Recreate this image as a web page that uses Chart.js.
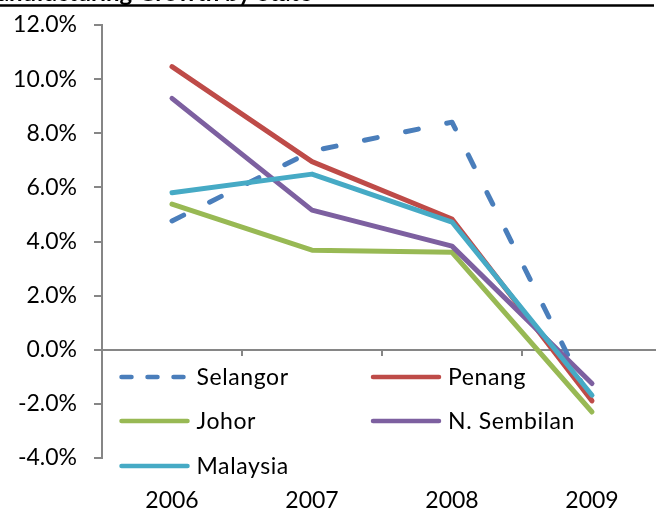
<!DOCTYPE html>
<html>
<head>
<meta charset="utf-8">
<script src="https://cdn.jsdelivr.net/npm/chart.js@4/dist/chart.umd.min.js"></script>
<style>
  html, body { margin: 0; padding: 0; background: #fff; overflow: hidden; }
  #wrap { position: absolute; left: 0; top: 0; width: 670px; height: 510px; }
</style>
</head>
<body>
<div id="wrap"><canvas id="c"></canvas></div>
<script>
// Annual growth by state, percent
const years = ['2006', '2007', '2008', '2009'];
const selangor   = [4.76, 7.34, 8.41, -2.0];
const penang     = [10.46, 6.95, 4.83, -1.89];
const johor      = [5.38, 3.68, 3.60, -2.30];
const nSembilan  = [9.29, 5.16, 3.83, -1.25];
const malaysia   = [5.80, 6.49, 4.72, -1.68];
const yTicks     = [-4, -2, 0, 2, 4, 6, 8, 10, 12];
const chartTitle = 'Manufacturing Growth by State';

const FONT = 'Lato, "Liberation Sans", sans-serif';
const AXIS_GREY = '#868686';

function series(label, data, color, order, dashed) {
  return {
    label, data, order,
    borderColor: color,
    backgroundColor: color,
    borderWidth: 5,
    borderCapStyle: 'round',
    borderJoinStyle: 'round',
    borderDash: dashed ? [13, 29] : [],
    pointRadius: 0,
    tension: 0,
    fill: false,
    legendDash: dashed ? [10, 16] : []
  };
}

const datasets = [
  series('Selangor', selangor, '#4A7EBB', 5, true),
  series('Penang', penang, '#BE4B48', 4, false),
  series('Johor', johor, '#98B954', 3, false),
  series('N. Sembilan', nSembilan, '#7D60A0', 2, false),
  series('Malaysia', malaysia, '#46AAC5', 1, false)
];

// Title strip with rule beneath it
const titlePlugin = {
  id: 'titleRule',
  afterDraw(chart) {
    const ctx = chart.ctx;
    ctx.save();
    ctx.fillStyle = '#000';
    ctx.font = 'bold 24px ' + FONT;
    ctx.textAlign = 'right';
    ctx.textBaseline = 'alphabetic';
    ctx.fillText(chartTitle, 312, 1);
    ctx.strokeStyle = '#000';
    ctx.lineWidth = 2.5;
    ctx.beginPath();
    ctx.moveTo(0, 5.5);
    ctx.lineTo(654, 5.5);
    ctx.stroke();
    ctx.restore();
  }
};

// Two-column legend laid inside the plot area
const gridLegend = {
  id: 'gridLegend',
  afterDatasetsDraw(chart) {
    const ctx = chart.ctx;
    const area = chart.chartArea;
    const colX = [area.left + 17.5, area.left + 269];
    const rowY = [area.bottom - 81, area.bottom - 37, area.bottom + 8];
    const sample = 68;
    ctx.save();
    ctx.font = '23px ' + FONT;
    ctx.textBaseline = 'middle';
    ctx.textAlign = 'left';
    if ('letterSpacing' in ctx) ctx.letterSpacing = '0.6px';
    chart.data.datasets.forEach((ds, i) => {
      const x = colX[i % 2];
      const y = rowY[Math.floor(i / 2)];
      ctx.strokeStyle = ds.borderColor;
      ctx.lineWidth = 4.5;
      ctx.lineCap = 'round';
      ctx.setLineDash(ds.legendDash);
      ctx.beginPath();
      ctx.moveTo(x + 2, y);
      ctx.lineTo(x + sample, y);
      ctx.stroke();
      ctx.setLineDash([]);
      ctx.fillStyle = '#000';
      ctx.fillText(ds.label, x + sample + 9, y + 1);
    });
    ctx.restore();
  }
};

new Chart(document.getElementById('c'), {
  type: 'line',
  data: { labels: years, datasets },
  options: {
    responsive: true,
    maintainAspectRatio: false,
    animation: false,
    layout: { padding: { top: 25, right: 8, left: 0, bottom: 0 } },
    plugins: { legend: { display: false }, tooltip: { enabled: false }, title: { display: false } },
    scales: {
      x: {
        type: 'category',
        position: 'bottom',
        offset: true,
        grid: { display: false },
        border: { display: false },
        ticks: { color: '#000', font: { family: FONT, size: 23 }, padding: 21, maxRotation: 0 },
        afterFit(scale) { scale.height = 52; }
      },
      xZero: {
        type: 'category',
        labels: years,
        position: { y: 0 },
        offset: true,
        grid: { offset: true, drawOnChartArea: false, drawTicks: true, tickLength: 6, tickColor: AXIS_GREY, lineWidth: 2 },
        border: { display: false },
        ticks: { display: false },
        afterFit(scale) { scale.height = 0; scale.paddingLeft = 0; scale.paddingRight = 0; }
      },
      y: {
        min: -4,
        max: 12,
        afterBuildTicks(scale) { scale.ticks = yTicks.map(v => ({ value: v })); },
        grid: {
          color: c => (c.tick && c.tick.value === 0 ? AXIS_GREY : 'transparent'),
          lineWidth: 2,
          tickColor: AXIS_GREY,
          tickLength: 8,
          drawTicks: true
        },
        border: { display: true, color: AXIS_GREY, width: 2 },
        ticks: {
          color: '#000',
          font: { family: FONT, size: 23 },
          padding: 17,
          callback: v => v.toFixed(1) + '%'
        },
        afterFit(scale) { scale.width = 102; scale.paddingTop = 0; scale.paddingBottom = 0; }
      }
    }
  },
  plugins: [titlePlugin, gridLegend]
});
</script>
</body>
</html>
